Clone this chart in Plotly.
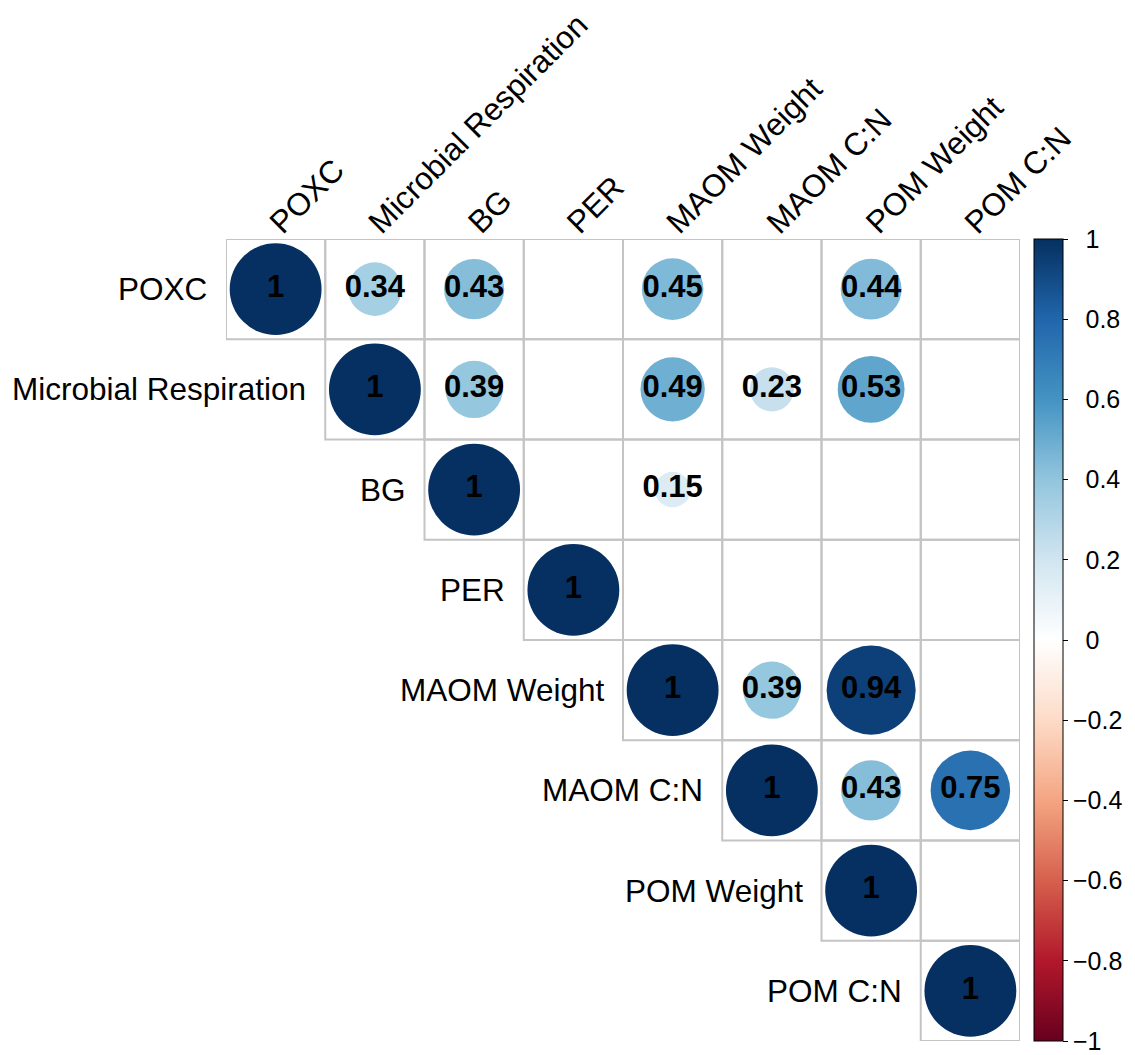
import math
import plotly.graph_objects as go

# Variables in the correlation matrix
variables = ["POXC", "Microbial Respiration", "BG", "PER",
             "MAOM Weight", "MAOM C:N", "POM Weight", "POM C:N"]

# Upper-triangle correlations per row (None = not shown / non-significant)
r_poxc = [1, 0.34, 0.43, None, 0.45, None, 0.44, None]
r_resp = [None, 1, 0.39, None, 0.49, 0.23, 0.53, None]
r_bg = [None, None, 1, None, 0.15, None, None, None]
r_per = [None, None, None, 1, None, None, None, None]
r_maom_w = [None, None, None, None, 1, 0.39, 0.94, None]
r_maom_cn = [None, None, None, None, None, 1, 0.43, 0.75]
r_pom_w = [None, None, None, None, None, None, 1, None]
r_pom_cn = [None, None, None, None, None, None, None, 1]

corr_rows = [r_poxc, r_resp, r_bg, r_per, r_maom_w, r_maom_cn, r_pom_w, r_pom_cn]

colorbar_ticks = [-1, -0.8, -0.6, -0.4, -0.2, 0, 0.2, 0.4, 0.6, 0.8, 1]

# RdBu diverging palette (red = negative, blue = positive)
rdbu = ["#67001F", "#B2182B", "#D6604D", "#F4A582", "#FDDBC7", "#FFFFFF",
        "#D1E5F0", "#92C5DE", "#4393C3", "#2166AC", "#053061"]
colorscale = [[k / (len(rdbu) - 1), c] for k, c in enumerate(rdbu)]

FONT = "Liberation Sans, Arial"
n = len(variables)
W, H = 1135, 1055
ML, MR, MT, MB = 226, 106, 239, 14
cell_px = (W - ML - MR) / n
full_diam = 0.915 * cell_px

xs, ys, vals, sizes, labels = [], [], [], [], []
for i, row in enumerate(corr_rows):
    for j, v in enumerate(row):
        if v is None:
            continue
        xs.append(j)
        ys.append(i)
        vals.append(v)
        sizes.append(full_diam * math.sqrt(abs(v)))
        labels.append(f"{v:g}")


def tick_label(t):
    # negative values get a true minus; others are padded to line up
    return ("\u2212" if t < 0 else "\u2002") + f"{abs(t):g}"


fig = go.Figure()

# cell borders for the upper triangle
shapes = []
for i in range(n):
    for j in range(i, n):
        shapes.append(dict(type="rect", xref="x", yref="y",
                           x0=j - 0.5, x1=j + 0.5, y0=i - 0.5, y1=i + 0.5,
                           line=dict(color="#C4C4C4", width=2), layer="below"))

fig.add_trace(go.Scatter(
    x=xs, y=ys, mode="markers+text",
    text=labels, textposition="middle center",
    textfont=dict(family=FONT, size=31, color="black", weight="bold"),
    marker=dict(size=sizes, sizemode="diameter", color=vals, opacity=1,
                colorscale=colorscale, cmin=-1, cmax=1,
                line=dict(width=0),
                colorbar=dict(
                    thickness=29, len=1, lenmode="fraction",
                    x=(1043 - ML) / (W - ML - MR), xanchor="left", xpad=0,
                    y=0.5, yanchor="middle", ypad=0,
                    outlinewidth=1, outlinecolor="black",
                    tickmode="array", tickvals=colorbar_ticks,
                    ticktext=[tick_label(t) for t in colorbar_ticks],
                    ticks="outside", ticklen=5, tickcolor="black",
                    ticklabeloverflow="allow",
                    tickfont=dict(family=FONT, size=25, color="black"),
                )),
    hoverinfo="skip", showlegend=False, cliponaxis=False,
))

annotations = []
# row labels next to each diagonal cell
for i, name in enumerate(variables):
    annotations.append(dict(
        x=i - 0.5, y=i, xref="x", yref="y", text=name, showarrow=False,
        xanchor="right", yanchor="middle", xshift=-17,
        font=dict(family=FONT, size=31.5, color="black")))
# rotated column labels above the grid
for j, name in enumerate(variables):
    annotations.append(dict(
        x=j, y=-0.5, xref="x", yref="y", text=name, showarrow=False,
        textangle=-45, xanchor="left", yanchor="bottom", xshift=-16, yshift=-4,
        font=dict(family=FONT, size=31.5, color="black")))

fig.update_layout(
    width=W, height=H,
    margin=dict(l=ML, r=MR, t=MT, b=MB),
    paper_bgcolor="white", plot_bgcolor="white",
    shapes=shapes, annotations=annotations,
    xaxis=dict(range=[-0.5, n - 0.5], visible=False, fixedrange=True),
    yaxis=dict(range=[n - 0.5, -0.5], visible=False, fixedrange=True),
)

fig.write_html("out.html")
